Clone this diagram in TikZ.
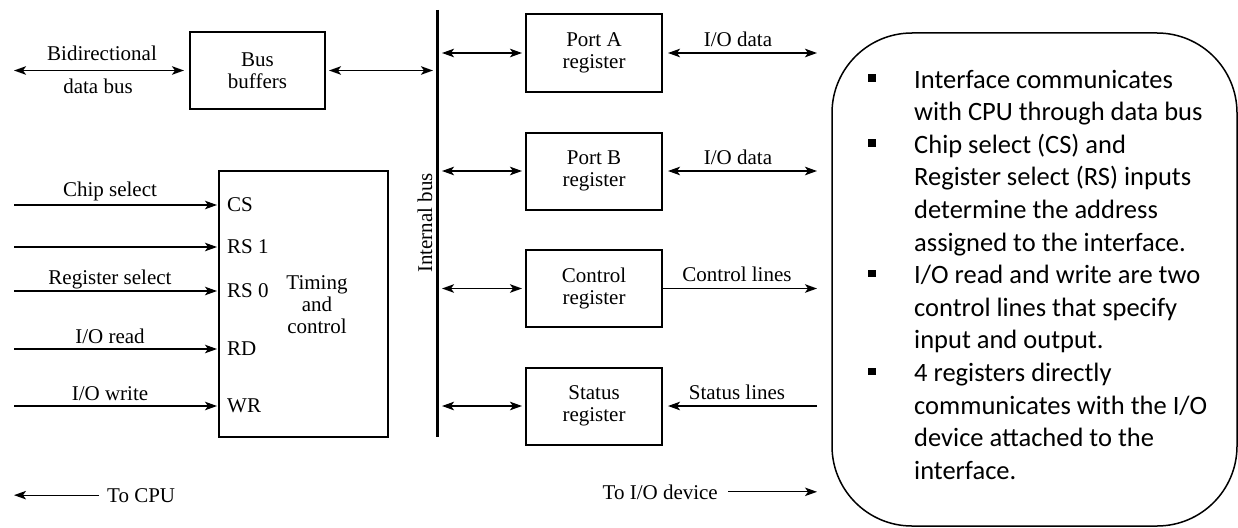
\documentclass[tikz,border=0pt]{standalone}
\usepackage{fontspec}
\setmainfont{Liberation Serif}
\newfontfamily\notefont{Carlito}
\usetikzlibrary{arrows.meta}
\tikzset{
box/.style={
  draw, rectangle, line width=2pt,
  align=center, inner sep=0pt
},
pin/.style={anchor=west, inner sep=0pt},
lbl/.style={inner sep=0pt, anchor=base},
biarrow/.style={line width=1.8pt, <->},
inarrow/.style={line width=1.2pt, ->, shorten >=1pt},
thinarrow/.style={line width=1.3pt, ->},
notebox/.style={line width=1.5pt, rounded corners=80pt},
note/.style={
  anchor=base west, align=left, inner sep=0pt,
  font=\notefont\fontsize{26.5}{32.6}\selectfont
},
bullet/.style={fill, rectangle, minimum size=7.5pt, inner sep=0pt},
}

\begin{document}
\begin{tikzpicture}[x=1pt,y=-1pt,
  >={Stealth[length=12pt,width=8.5pt,inset=3pt]},
  font=\fontsize{21}{22}\selectfont]
\useasboundingbox (0,0) rectangle (1238,527);
% the internal bus
\coordinate (bustop) at (437,10);
\coordinate (busbot) at (437,437);
\coordinate (cpuside) at (14,0);
\coordinate (ioside) at (817,0);
\draw[line width=3pt] (bustop) -- (busbot);
\node[rotate=90, inner sep=0pt] (ibus) at (425,223) {Internal bus};
% the bus buffers
\node[box, minimum width=135pt, minimum height=77pt] (buf) at (257.5,70.5) {Bus\\buffers};
\draw[biarrow, shorten >=5pt] (cpuside |- buf.west) -- (buf.west);
\node[lbl] (bidir) at (102,60) {Bidirectional};
\node[lbl] (dbus) at (98,93) {data bus};
\draw[biarrow, shorten <=3pt, shorten >=4pt] (buf.east) -- (bustop |- buf.east);
% timing and control
\node[box, minimum width=169pt, minimum height=266pt] (timing) at (303.5,304) {};
\node[align=center, inner sep=0pt] (tc) at (317,305) {Timing\\and\\control};
\foreach \name/\txt/\y in {cs/CS/205, rsa/RS 1/247, rsb/RS 0/291, rd/RD/349, wr/WR/406}
{
  \node[pin] (\name) at (227,\y) {\txt};
  \draw[inarrow] (cpuside |- \name.west) -- (timing.west |- \name.west);
}
\node[lbl] (chipsel) at (110,196) {Chip select};
\node[lbl] (regsel) at (110,284) {Register select};
\node[lbl] (iord) at (110,343) {I/O read};
\node[lbl] (iowr) at (110,400.5) {I/O write};
% the registers
\foreach \name/\txt/\y in {porta/Port A/53, portb/Port B/171, ctrl/Control/288.5, stat/Status/406}
{
  \node[box, minimum width=136pt, minimum height=77pt] (\name) at (594,\y) {\txt\\register};
  \draw[biarrow, shorten <=5pt, shorten >=3pt] (bustop |- \name.west) -- (\name.west);
}
% the I/O side
\draw[biarrow, shorten <=5pt] (porta.east) -- (ioside |- porta.east);
\node[lbl] (ioa) at (738,46) {I/O data};
\draw[biarrow, shorten <=5pt] (portb.east) -- (ioside |- portb.east);
\node[lbl] (iob) at (738,164) {I/O data};
\draw[biarrow, -> ] (ctrl.east) -- (ioside |- ctrl.east);
\node[lbl] (ctrll) at (737,281.5) {Control lines};
\draw[biarrow, -> , shorten >=5pt] (ioside |- stat.east) -- (stat.east);
\node[lbl] (statl) at (737,399) {Status lines};
% the directions
\node[lbl, anchor=base west] (tocpu) at (107,502) {To CPU};
\draw[thinarrow, shorten <=8pt] (tocpu.west) -- (cpuside |- tocpu.west);
\node[lbl, anchor=base east] (toio) at (718,499) {To I/O device};
\draw[thinarrow, shorten <=10pt] (toio.east) -- (ioside |- toio.east);
% the notes (base is the last line)
\draw[notebox] (832,33) rectangle (1237,526);
\node[note] (n1) at (914,120.6) {Interface communicates\\with CPU through data bus};
\node[note] (n2) at (914,251) {Chip select (CS) and\\Register select (RS) inputs\\determine the address\\assigned to the interface.};
\node[note] (n3) at (914,348.8) {I/O read and write are two\\control lines that specify\\input and output.};
\node[note] (n4) at (914,479.2) {4 registers directly\\communicates with the I/O\\device attached to the\\interface.};
\foreach \n/\k in {n1/1, n2/3, n3/2, n4/3}
  \node[bullet] at ([xshift=-42pt,yshift={10pt+\k*32.6pt}]\n.base west) {};
\end{tikzpicture}
\end{document}
